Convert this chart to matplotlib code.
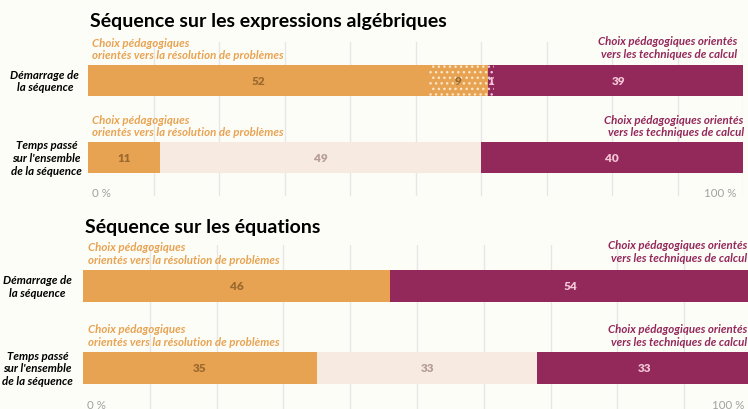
import matplotlib
matplotlib.use("Agg")
import matplotlib.pyplot as plt

plt.rcParams['font.family'] = ['Lato', 'DejaVu Sans']
plt.rcParams['hatch.linewidth'] = 1.0

# ---- data ----
rows = ["Démarrage de\nla séquence", "Temps passé\nsur l'ensemble\nde la séquence"]
titles = ["Séquence sur les expressions algébriques", "Séquence sur les équations"]
# segment kinds: o = orange, od = orange dotted, pd = purple dotted, l = light, p = purple
alg_segments = [[("o", 52), ("od", 9), ("pd", 1), ("p", 39)],
                [("o", 11), ("l", 49), ("p", 40)]]
eq_segments = [[("o", 46), ("p", 54)],
               [("o", 35), ("l", 33), ("p", 33)]]
left_note = "Choix pédagogiques\norientés vers la résolution de problèmes"
right_note = "Choix pédagogiques orientés\nvers les techniques de calcul"
tick_labels = ["0 %", "100 %"]

ORANGE = "#E8A352"
PURPLE = "#93285A"
LIGHT = "#F6EAE1"
BG = "#FDFDF8"
fill = {"o": ORANGE, "od": ORANGE, "pd": PURPLE, "l": LIGHT, "p": PURPLE}
dotc = {"od": "#FBE6C6", "pd": "#EEC8D8"}
txtc = {"o": "#9B6A2E", "od": "#9B6A2E", "pd": "#F2C6D6", "l": "#B59C94", "p": "#F2C6D6"}

W, H = 748, 410
fig = plt.figure(figsize=(W / 100, H / 100), dpi=100, facecolor=BG)


def px_axes(x0, y0, x1, y1):
    return fig.add_axes([x0 / W, 1 - y1 / H, (x1 - x0) / W, (y1 - y0) / H])


FS = 8.3


def panel(ax, segs, title, title_xy, rnote_x, lnote_x, ylabel_x, tick_y):
    ax.set_facecolor(BG)
    ax.set_xlim(0, 100)
    ax.set_ylim(1.5, -0.5)
    for s in ax.spines.values():
        s.set_visible(False)
    ax.set_xticks([])
    ax.set_yticks([])
    for g in range(10, 101, 10):
        ax.axvline(g, color="#E6E6E6", lw=1, zorder=0)
    h = 0.40
    for i, row in enumerate(segs):
        left = 0
        for kind, v in row:
            dotted = kind in ("od", "pd")
            ax.barh(i, v, left=left, height=h, color=fill[kind],
                    hatch="..." if dotted else None,
                    edgecolor=dotc[kind] if dotted else fill[kind],
                    linewidth=0, zorder=2)
            cx = (left + min(left + v, 100)) / 2
            ax.text(cx, i, str(v), ha="center", va="center", fontsize=8.5,
                    fontweight="heavy", color=txtc[kind], zorder=5)
            left += v
        ax.text(lnote_x, i - h / 2 - 0.06, left_note, ha="left", va="bottom",
                fontsize=FS, fontweight="bold", style="italic", color=ORANGE,
                linespacing=1.2)
        ax.text(rnote_x[i], i - h / 2 - 0.06 - (0.02 if i == 0 else 0), right_note,
                ha="right", va="bottom", multialignment="right",
                fontsize=FS, fontweight="bold", style="italic", color=PURPLE,
                linespacing=1.2)
        ax.text(ylabel_x[i], i, rows[i], ha="center", va="center",
                transform=ax.get_yaxis_transform(),
                fontsize=FS, fontweight="bold", style="italic", color="black",
                linespacing=1.2)
    ax.text(0.6, tick_y, tick_labels[0], ha="left", va="center", fontsize=8.3, color="#A0A0A0")
    ax.text(99, tick_y, tick_labels[1], ha="right", va="center", fontsize=8.3, color="#A0A0A0")
    ax.text(title_xy[0], title_xy[1], title, transform=fig.transFigure,
            ha="left", va="center", fontsize=14, fontweight="bold", color="black")


ax1 = px_axes(88, 43, 743, 197)
panel(ax1, alg_segments, titles[0], (90 / W, 1 - 22 / H), [99.1, 100.1], 0.6,
      [-0.066, -0.063], 1.46)

ax2 = px_axes(83, 246, 751, 410)
panel(ax2, eq_segments, titles[1], (85 / W, 1 - 227 / H), [99.4, 99.4], 0.75,
      [-0.068, -0.068], 1.45)

fig.savefig("out.png", dpi=100, facecolor=BG)
